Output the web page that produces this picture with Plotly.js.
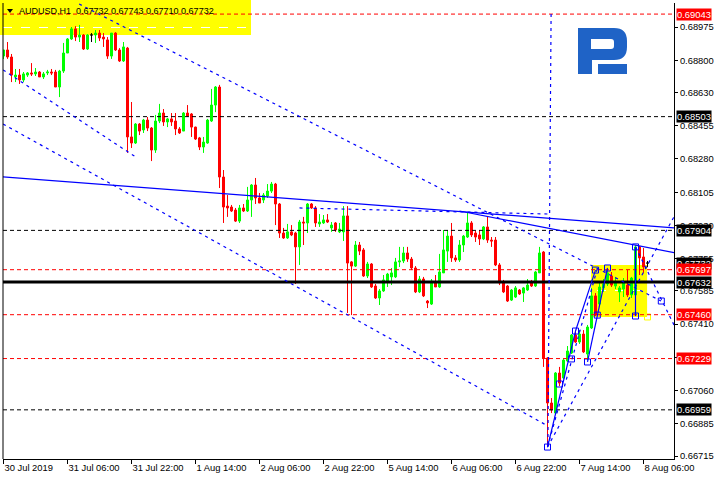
<!DOCTYPE html>
<html><head><meta charset="utf-8">
<script src="https://cdn.plot.ly/plotly-3.0.1.min.js"></script>
<style>html,body{margin:0;padding:0;background:#fff}#c{width:720px;height:480px}</style>
</head><body><div id="c"></div>
<script>
// ---------- data ----------
const tickIndex = [1,17,33,49,65,81,97,113,129,145,161];
const tickLabels = ['30 Jul 2019','31 Jul 06:00','31 Jul 22:00','1 Aug 14:00','2 Aug 06:00','2 Aug 22:00','5 Aug 14:00','6 Aug 06:00','6 Aug 22:00','7 Aug 14:00','8 Aug 06:00'];
const priceTicks = [0.68975,0.68800,0.68630,0.68455,0.68280,0.68105,0.67930,0.67755,0.67585,0.67410,0.67235,0.67060,0.66885,0.66715];

const open = [0.68822,0.68854,0.68817,0.68712,0.68722,0.68696,0.68722,0.68733,0.68728,0.68738,
0.68712,0.68733,0.68738,0.68738,0.68659,0.68743,0.68838,0.68912,0.68965,0.68922,
0.68933,0.68859,0.68933,0.68933,0.68943,0.68922,0.68907,0.68822,0.68943,0.68854,
0.68796,0.68864,0.68396,0.68364,0.68464,0.68433,0.68485,0.68443,0.68327,0.68480,
0.68522,0.68475,0.68491,0.68480,0.68438,0.68427,0.68522,0.68517,0.68448,0.68391,
0.68343,0.68364,0.68480,0.68564,0.68659,0.68185,0.68032,0.68027,0.68011,0.67953,
0.68022,0.68006,0.68064,0.68143,0.68075,0.68064,0.68085,0.68111,0.68148,0.68043,
0.67890,0.67864,0.67896,0.67890,0.67817,0.67948,0.67943,0.68043,0.68022,0.67938,
0.67943,0.67959,0.67917,0.67943,0.67896,0.67896,0.67980,0.67738,0.67716,0.67827,
0.67801,0.67664,0.67727,0.67611,0.67548,0.67585,0.67632,0.67659,0.67659,0.67738,
0.67743,0.67785,0.67753,0.67706,0.67580,0.67648,0.67532,0.67516,0.67627,0.67606,
0.67680,0.67795,0.67874,0.67759,0.67748,0.67827,0.67869,0.67943,0.67890,0.67880,
0.67859,0.67922,0.67853,0.67853,0.67722,0.67627,0.67611,0.67537,0.67553,0.67590,
0.67574,0.67590,0.67627,0.67611,0.67680,0.67790,0.67232,0.66995,0.66942,0.67153,
0.67127,0.67216,0.67258,0.67353,0.67316,0.67358,0.67253,0.67390,0.67559,0.67516,
0.67601,0.67622,0.67664,0.67611,0.67580,0.67595,0.67616,0.67564,0.67564,0.67817,
0.67764,0.67732];
const high = [0.68854,0.68896,0.68833,0.68754,0.68754,0.68738,0.68738,0.68785,0.68759,0.68743,
0.68738,0.68749,0.68754,0.68749,0.68749,0.68891,0.68917,0.68975,0.68980,0.68986,
0.68938,0.68938,0.68943,0.68959,0.68959,0.68943,0.68922,0.68943,0.68948,0.68864,
0.68896,0.68870,0.68580,0.68469,0.68469,0.68491,0.68501,0.68448,0.68512,0.68570,
0.68543,0.68496,0.68522,0.68522,0.68448,0.68527,0.68564,0.68522,0.68450,0.68396,
0.68396,0.68491,0.68649,0.68664,0.68670,0.68222,0.68090,0.68038,0.68022,0.68038,
0.68043,0.68133,0.68148,0.68180,0.68101,0.68101,0.68148,0.68159,0.68154,0.68048,
0.67917,0.67938,0.67932,0.67896,0.67959,0.67975,0.68048,0.68048,0.68032,0.67990,
0.67985,0.67990,0.67948,0.67948,0.67943,0.68032,0.68032,0.67743,0.67848,0.67843,
0.67811,0.67738,0.67732,0.67622,0.67595,0.67669,0.67680,0.67706,0.67759,0.67817,
0.67817,0.67817,0.67764,0.67716,0.67664,0.67659,0.67537,0.67648,0.67669,0.67780,
0.67906,0.67906,0.67943,0.67774,0.67853,0.67880,0.67996,0.67953,0.67901,0.67906,
0.67927,0.67975,0.67869,0.67869,0.67732,0.67643,0.67616,0.67595,0.67611,0.67595,
0.67606,0.67648,0.67643,0.67690,0.67817,0.67795,0.67237,0.67021,0.67158,0.67185,
0.67232,0.67295,0.67358,0.67379,0.67379,0.67379,0.67406,0.67601,0.67574,0.67627,
0.67648,0.67701,0.67685,0.67659,0.67611,0.67653,0.67695,0.67659,0.67827,0.67822,
0.67811,0.67743];
const low = [0.68807,0.68807,0.68685,0.68685,0.68675,0.68685,0.68712,0.68717,0.68717,0.68712,
0.68701,0.68722,0.68722,0.68659,0.68606,0.68733,0.68838,0.68907,0.68901,0.68896,
0.68854,0.68854,0.68896,0.68891,0.68901,0.68870,0.68807,0.68807,0.68849,0.68791,
0.68791,0.68312,0.68338,0.68359,0.68406,0.68417,0.68427,0.68269,0.68312,0.68469,
0.68454,0.68448,0.68454,0.68406,0.68412,0.68427,0.68501,0.68396,0.68380,0.68327,
0.68312,0.68360,0.68475,0.68527,0.68127,0.67943,0.67975,0.68001,0.67948,0.67943,
0.68001,0.68001,0.67975,0.68043,0.68048,0.68048,0.68075,0.68101,0.67932,0.67864,
0.67859,0.67859,0.67874,0.67622,0.67722,0.67827,0.67890,0.68017,0.67922,0.67922,
0.67938,0.67943,0.67896,0.67896,0.67890,0.67848,0.67469,0.67458,0.67711,0.67774,
0.67659,0.67653,0.67601,0.67543,0.67511,0.67580,0.67606,0.67616,0.67653,0.67711,
0.67732,0.67738,0.67695,0.67574,0.67574,0.67553,0.67495,0.67511,0.67606,0.67601,
0.67680,0.67738,0.67738,0.67738,0.67738,0.67790,0.67864,0.67869,0.67843,0.67827,
0.67853,0.67838,0.67817,0.67716,0.67616,0.67574,0.67527,0.67532,0.67548,0.67564,
0.67527,0.67585,0.67606,0.67606,0.67680,0.67185,0.66763,0.66942,0.66937,0.67084,
0.67122,0.67211,0.67253,0.67311,0.67306,0.67258,0.67221,0.67385,0.67453,0.67511,
0.67580,0.67611,0.67606,0.67595,0.67527,0.67553,0.67553,0.67548,0.67469,0.67669,
0.67680,0.67710];
const close = [0.68854,0.68817,0.68722,0.68722,0.68696,0.68728,0.68733,0.68728,0.68738,0.68712,
0.68728,0.68738,0.68733,0.68659,0.68743,0.68838,0.68912,0.68965,0.68922,0.68933,
0.68859,0.68933,0.68933,0.68943,0.68917,0.68912,0.68822,0.68943,0.68854,0.68796,
0.68870,0.68396,0.68364,0.68464,0.68427,0.68485,0.68443,0.68327,0.68480,0.68522,
0.68475,0.68491,0.68475,0.68438,0.68417,0.68522,0.68506,0.68448,0.68385,0.68343,
0.68369,0.68485,0.68564,0.68659,0.68185,0.68027,0.68022,0.68006,0.67953,0.68022,
0.68006,0.68064,0.68143,0.68075,0.68048,0.68090,0.68111,0.68148,0.68043,0.67890,
0.67864,0.67896,0.67880,0.67817,0.67948,0.67943,0.68043,0.68022,0.67943,0.67948,
0.67959,0.67948,0.67932,0.67906,0.67911,0.67980,0.67732,0.67716,0.67827,0.67795,
0.67664,0.67727,0.67606,0.67548,0.67585,0.67643,0.67674,0.67680,0.67738,0.67743,
0.67785,0.67753,0.67706,0.67580,0.67648,0.67559,0.67522,0.67637,0.67606,0.67685,
0.67801,0.67874,0.67759,0.67748,0.67827,0.67874,0.67943,0.67880,0.67869,0.67859,
0.67922,0.67853,0.67848,0.67722,0.67627,0.67580,0.67532,0.67590,0.67601,0.67569,
0.67601,0.67616,0.67611,0.67685,0.67785,0.67232,0.66995,0.66958,0.67153,0.67100,
0.67221,0.67269,0.67353,0.67316,0.67358,0.67264,0.67395,0.67559,0.67458,0.67606,
0.67622,0.67680,0.67616,0.67627,0.67601,0.67627,0.67564,0.67653,0.67817,0.67759,
0.67711,0.67732];

const redLevels = [0.69043, 0.67697, 0.67460, 0.67229];
const blackLevels = [0.68503, 0.67904, 0.66959];
const pivotLevel = [0.67632];
const bidPrice = [0.67732];

// trend lines: [bar0, price0, bar1, price1]
const solidSegments = [[0,0.68187,169,0.67917],[115,0.68006,169,0.67785],[137,0.66763,144,0.67374],[144,0.67374,149,0.67695],[147,0.67211,152,0.67706],[159,0.67453,159,0.67817]];
const dottedSegments = [[19.9,0.69096,165.4,0.67532],[0.9,0.68749,34.1,0.68290],[0.9,0.68464,137.1,0.66874],[75,0.68022,137.5,0.67990],[137,0.66763,169,0.67990],[159,0.67817,169,0.67390],[137,0.66763,149.5,0.67706],[137.9,0.69043,137.1,0.66763]];
const boxBars = [137,140,143,144,147,149,149.45,152,159,159,165.45];
const boxPrices = [0.66763,0.67095,0.67227,0.67374,0.67211,0.67695,0.67458,0.67706,0.67453,0.67817,0.67532];
const targetBar = [162];
const targetPrice = [0.67448];
const zoneBars = [147.9, 161.9];
const zonePrices = [0.67448, 0.67722];

// ---------- drawing ----------
const FONT = '"Liberation Sans", Arial, sans-serif';
const FS = 9.4;
const L = 3, R = 46, T = 3, B = 21, W = 720, H = 480;
const pw = W - L - R, ph = H - T - B;
const px2x = px => (px - L) / pw;
const py2y = py => (H - B - py) / ph;
const pathPx = s => s.replace(/(-?[\d.]+),(-?[\d.]+)/g, (m,a,b) => px2x(+a).toFixed(5)+','+py2y(+b).toFixed(5));

const idx = open.map((_, i) => i + 1);
const isDoji = open.map((o, i) => o === close[i]);
const pick = (arr, want) => arr.filter((_, i) => isDoji[i] === want);

// labels hidden behind level labels in the reference
const hiddenTicks = [0.67235];

const traces = [
  {type:'candlestick', x:pick(idx,false), open:pick(open,false), high:pick(high,false), low:pick(low,false), close:pick(close,false),
   increasing:{line:{color:'#00ff00', width:1}, fillcolor:'#00ff00'},
   decreasing:{line:{color:'#ff0000', width:1}, fillcolor:'#ff0000'},
   whiskerwidth:0, hoverinfo:'skip'},
  {type:'candlestick', x:pick(idx,true), open:pick(open,true), high:pick(high,true), low:pick(low,true), close:pick(close,true),
   increasing:{line:{color:'#000000', width:1}, fillcolor:'#000000'},
   decreasing:{line:{color:'#000000', width:1}, fillcolor:'#000000'},
   whiskerwidth:0, hoverinfo:'skip'},
  {type:'scatter', mode:'markers', x:boxBars, y:boxPrices, hoverinfo:'skip',
   marker:{symbol:'square-open', size:6, color:'#0000ff', line:{width:1, color:'#0000ff'}}},
  {type:'scatter', mode:'markers', x:targetBar, y:targetPrice, hoverinfo:'skip',
   marker:{symbol:'square-open', size:6, color:'#ffff00', line:{width:1, color:'#ffff00'}}}
];

const shapes = [];
shapes.push({type:'rect', xref:'paper', yref:'paper', x0:px2x(0), x1:px2x(251), y0:py2y(35), y1:py2y(0), fillcolor:'#ffff00', line:{width:0}, layer:'below'});
shapes.push({type:'rect', xref:'x', yref:'y', x0:zoneBars[0], x1:zoneBars[1], y0:zonePrices[0], y1:zonePrices[1], fillcolor:'#ffff00', line:{width:0}, layer:'below'});
redLevels.forEach(v => shapes.push({type:'line', xref:'paper', x0:0, x1:1, yref:'y', y0:v, y1:v, line:{color:'#ff0000', width:1, dash:'4px,3px'}, layer:'above'}));
blackLevels.forEach(v => shapes.push({type:'line', xref:'paper', x0:0, x1:1, yref:'y', y0:v, y1:v, line:{color:'#000000', width:1, dash:'4px,3px'}, layer:'above'}));
pivotLevel.forEach(v => shapes.push({type:'line', xref:'paper', x0:0, x1:1, yref:'y', y0:v, y1:v, line:{color:'#000000', width:3}, layer:'above'}));
solidSegments.forEach(s => shapes.push({type:'line', xref:'x', yref:'y', x0:s[0], y0:s[1], x1:s[2], y1:s[3], line:{color:'#0000ff', width:1.2}, layer:'above'}));
dottedSegments.forEach(s => shapes.push({type:'line', xref:'x', yref:'y', x0:s[0], y0:s[1], x1:s[2], y1:s[3], line:{color:'#0000ff', width:1.2, dash:'3px,4px'}, layer:'above'}));
shapes.push({type:'line', xref:'paper', yref:'paper', x0:0, x1:0, y0:0, y1:1, line:{color:'#000', width:1}});
shapes.push({type:'path', xref:'paper', yref:'paper', path:pathPx('M7,9 L13,9 L10,13 Z'), fillcolor:'#000', line:{width:0}});
shapes.push({type:'path', xref:'paper', yref:'paper', fillrule:'evenodd',
  path:pathPx('M578,28 L614,28 Q627,28 627,41 L627,47 Q627,60 614,60 L592,60 L592,74 L578,74 Z M591,39 L611,39 Q614,39 614,42 L614,46 Q614,49 611,49 L591,49 Z'),
  fillcolor:'#1f63c6', line:{width:0}});
shapes.push({type:'path', xref:'paper', yref:'paper', path:pathPx('M598,64 L627,64 L627,74 L598,74 Z'), fillcolor:'#1f63c6', line:{width:0}});

const annotations = [];
annotations.push({xref:'paper', yref:'paper', x:px2x(17), y:py2y(11), xanchor:'left', yanchor:'middle', showarrow:false,
  text:'AUDUSD,H1\u00a0 ' + [open[161], high[161], low[161], close[161]].map(v => v.toFixed(5)).join(' '),
  font:{family:FONT, size:9, color:'#000'}});
const lab = (v, bg) => annotations.push({xref:'paper', x:1, xshift:2, xanchor:'left', yref:'y', y:v, yanchor:'middle', showarrow:false,
  text:v.toFixed(5), bgcolor:bg, borderpad:0, font:{family:FONT, size:FS, color:'#ffffff'}});
blackLevels.forEach(v => lab(v, '#000000'));
bidPrice.forEach(v => lab(v, '#000000'));
redLevels.forEach(v => lab(v, '#ff0000'));
pivotLevel.forEach(v => lab(v, '#000000'));

const layout = {
  width:W, height:H, margin:{l:L, r:R, t:T, b:B, pad:0},
  paper_bgcolor:'#ffffff', plot_bgcolor:'rgba(0,0,0,0)', showlegend:false,
  boxgap:0.5, boxgroupgap:0,
  font:{family:FONT, size:FS, color:'#000'},
  xaxis:{type:'linear', range:[0.875, 168.625], tickvals:tickIndex, ticktext:tickLabels, ticks:'outside', ticklen:4, tickcolor:'#000',
    showline:true, linecolor:'#000', linewidth:1, showgrid:false, zeroline:false, rangeslider:{visible:false},
    ticklabelposition:'outside right', tickfont:{family:FONT, size:FS, color:'#000'}},
  yaxis:{side:'right', range:[0.667001, 0.691014], tickvals:priceTicks,
    ticktext:priceTicks.map(v => hiddenTicks.includes(v) ? '' : v.toFixed(5)),
    ticks:'outside', ticklen:3, tickcolor:'#000', showline:true, linecolor:'#000', linewidth:1,
    showgrid:true, gridcolor:'#ffffff', griddash:'dash', gridwidth:1, zeroline:false, tickfont:{family:FONT, size:FS, color:'#000'}},
  shapes:shapes, annotations:annotations
};

Plotly.newPlot('c', traces, layout, {staticPlot:true, displayModeBar:false});
</script>
</body></html>
